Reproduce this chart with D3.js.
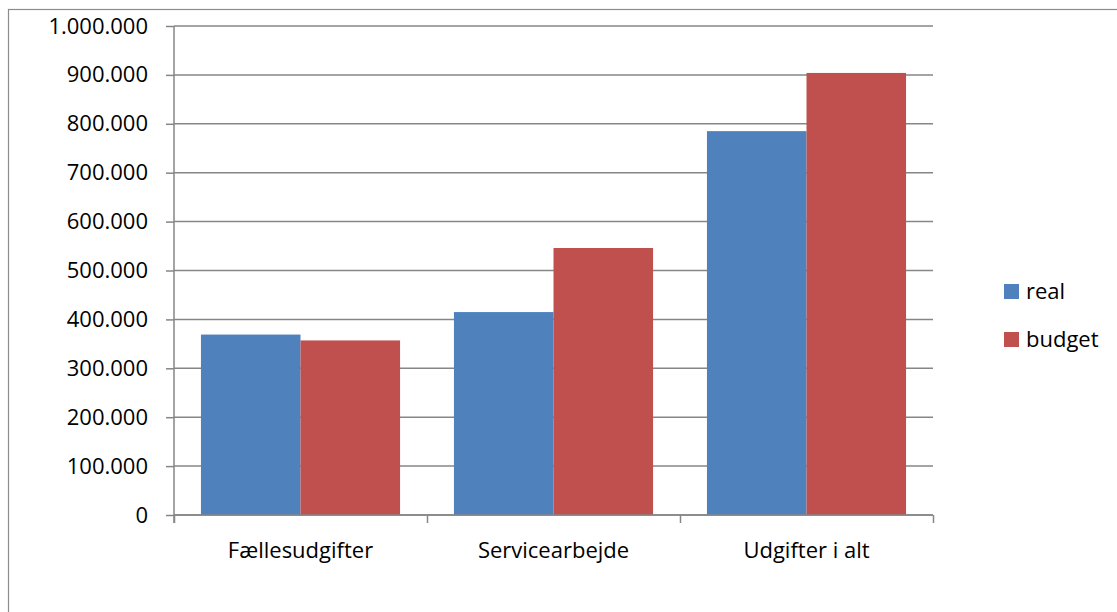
<!DOCTYPE html>
<html>
<head>
<meta charset="utf-8">
<script src="https://cdn.jsdelivr.net/npm/d3@7"></script>
<style>
  body { margin: 0; background: #fff; }
  text { font-family: "Open Sans", sans-serif; fill: #000; }
</style>
</head>
<body>
<svg width="1117" height="612"></svg>
<script>
var categories = ['Fællesudgifter', 'Servicearbejde', 'Udgifter i alt'];
var seriesNames = ['real', 'budget'];
var realValues = [369000, 415000, 785000];
var budgetValues = [357000, 546000, 904000];
var yTicks = [0, 100000, 200000, 300000, 400000, 500000, 600000, 700000, 800000, 900000, 1000000];
var colors = ['#4F81BD', '#C0504D'];

var fontSize = 22;
var svg = d3.select('svg');

// chart border
svg.append('rect')
  .attr('x', 8.5).attr('y', 9.5)
  .attr('width', 1200).attr('height', 700)
  .attr('fill', 'none').attr('stroke', '#8c8c8c').attr('stroke-width', 1.2);

var plotL = 174, plotR = 933, plotT = 26, plotB = 515;

var y = d3.scaleLinear().domain([0, 1000000]).range([plotB, plotT]);
var x = d3.scaleBand().domain(categories).range([plotL, plotR])
  .paddingInner(0.213).paddingOuter(0.1065);
var xs = d3.scaleBand().domain(seriesNames).range([0, x.bandwidth()]);

var fmt = d3.formatLocale({ decimal: ',', thousands: '.', grouping: [3], currency: ['', ' kr'] }).format(',d');

// gridlines
svg.append('g').selectAll('line')
  .data(yTicks).enter().append('line')
  .attr('x1', plotL).attr('x2', plotR)
  .attr('y1', d => y(d)).attr('y2', d => y(d))
  .attr('stroke', '#868686').attr('stroke-width', 1.5);

// bars
var rows = categories.map((c, i) => ({ cat: c, vals: [realValues[i], budgetValues[i]] }));
var groups = svg.append('g').selectAll('g')
  .data(rows).enter().append('g')
  .attr('transform', d => 'translate(' + x(d.cat) + ',0)');
groups.selectAll('rect')
  .data(d => d.vals.map((v, j) => ({ name: seriesNames[j], v: v, j: j })))
  .enter().append('rect')
  .attr('x', d => xs(d.name))
  .attr('width', xs.bandwidth())
  .attr('y', d => y(d.v))
  .attr('height', d => plotB - y(d.v))
  .attr('fill', d => colors[d.j]);

// y axis
var yAxis = d3.axisLeft(y).tickValues(yTicks).tickFormat(fmt).tickSize(8).tickPadding(18);
var gy = svg.append('g').attr('transform', 'translate(' + plotL + ',0)').call(yAxis);
gy.select('.domain').attr('stroke', '#868686').attr('stroke-width', 1.5)
  .attr('d', 'M0,' + plotT + 'V' + (plotB + 8));
gy.selectAll('.tick line').attr('stroke', '#868686').attr('stroke-width', 1.5);
gy.selectAll('.tick text').attr('font-size', fontSize).attr('font-family', '"Open Sans", sans-serif').attr('fill', '#000');

// x axis
var xAxis = d3.axisBottom(d3.scaleLinear().domain([0, 3]).range([plotL, plotR]))
  .tickValues([0, 1, 2, 3]).tickFormat('').tickSize(8);
var gx = svg.append('g').attr('transform', 'translate(0,' + plotB + ')').call(xAxis);
gx.select('.domain').attr('stroke', '#868686').attr('stroke-width', 1.5).attr('d', 'M' + plotL + ',0H' + plotR);
gx.selectAll('.tick line').attr('stroke', '#868686').attr('stroke-width', 1.5);

svg.append('g').selectAll('text')
  .data(categories).enter().append('text')
  .attr('x', d => x(d) + x.bandwidth() / 2)
  .attr('y', 558)
  .attr('text-anchor', 'middle')
  .attr('font-size', fontSize)
  .text(d => d);

// legend
var legend = svg.append('g').selectAll('g')
  .data(seriesNames).enter().append('g')
  .attr('transform', (d, i) => 'translate(1004,' + (284 + i * 48) + ')');
legend.append('rect').attr('width', 15).attr('height', 15).attr('fill', (d, i) => colors[i]);
legend.append('text').attr('x', 22).attr('y', 15).attr('font-size', fontSize).text(d => d);
</script>
</body>
</html>
